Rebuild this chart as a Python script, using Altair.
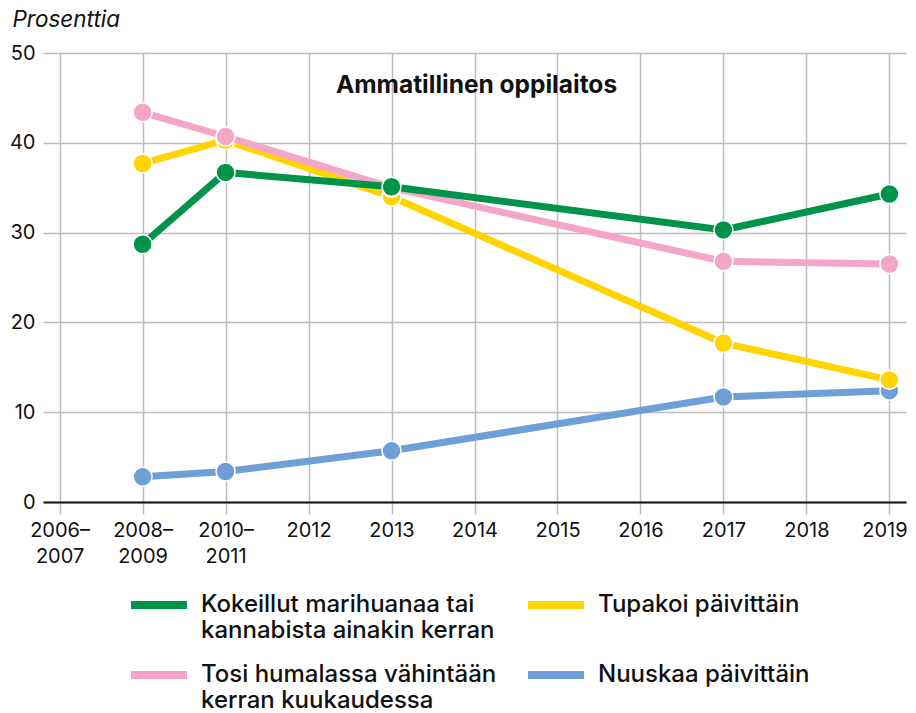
import altair as alt
import pandas as pd

# ---- data ----
categories = ["2006–2007", "2008–2009", "2010–2011", "2012", "2013", "2014",
              "2015", "2016", "2017", "2018", "2019"]

series_labels = [
    "Kokeillut marihuanaa tai|kannabista ainakin kerran",
    "Tupakoi päivittäin|",
    "Tosi humalassa vähintään|kerran kuukaudessa",
    "Nuuskaa päivittäin|",
]
series_colors = ["#00934A", "#FFD400", "#F4A6C9", "#6E9FD6"]

marihuana = [None, 28.7, 36.7, None, 35.1, None, None, None, 30.3, None, 34.3]
tupakka = [None, 37.7, 40.3, None, 34.0, None, None, None, 17.7, None, 13.6]
humala = [None, 43.4, 40.7, None, 35.0, None, None, None, 26.8, None, 26.5]
nuuska = [None, 2.8, 3.4, None, 5.7, None, None, None, 11.7, None, 12.4]

y_ticks = [0, 10, 20, 30, 40, 50]
y_title = "Prosenttia"
panel_title = "Ammatillinen oppilaitos"

series_values = {
    series_labels[0]: marihuana,
    series_labels[1]: tupakka,
    series_labels[2]: humala,
    series_labels[3]: nuuska,
}

rows = []
for name, vals in series_values.items():
    for cat, v in zip(categories, vals):
        if v is not None:
            rows.append({"vuosi": cat, "arvo": v, "sarja": name})
df = pd.DataFrame(rows)

W, H = 863, 449
FONT = "Inter"

x_enc = alt.X(
    "vuosi:N",
    sort=categories,
    scale=alt.Scale(type="point", domain=categories, padding=0.2),
    axis=alt.Axis(
        title=None,
        labelExpr="split(replace(datum.label, '–', '–|'), '|')",
        labelAngle=0,
        labelOverlap=False,
        labelLineHeight=26,
        labelOffset=alt.condition("datum.value == '2019'", alt.value(-5), alt.value(0)),
    ),
)
y_enc = alt.Y(
    "arvo:Q",
    scale=alt.Scale(domain=[0, 50], nice=False, zero=True),
    axis=alt.Axis(
        values=y_ticks,
        title=y_title,
        titleAngle=0,
        titleAlign="left",
        titleBaseline="alphabetic",
        titleX=-31,
        titleY=-27,
        titleFont=FONT,
        titleFontSize=22.5,
        titleFontStyle="italic",
        titleFontWeight="normal",
        titleColor="#111111",
    ),
)
color_enc = alt.Color(
    "sarja:N",
    scale=alt.Scale(domain=series_labels, range=series_colors),
    legend=alt.Legend(
        title=None,
        orient="none",
        direction="horizontal",
        legendX=84,
        legendY=520,
        padding=0,
        columns=2,
        columnPadding=15,
        rowPadding=-18,
        symbolType="stroke",
        symbolSize=3136,
        symbolStrokeWidth=8,
        labelFont=FONT,
        labelFontSize=24,
        labelFontWeight=500,
        labelColor="#111111",
        labelLimit=600,
        labelOffset=10,
        labelExpr="split(datum.label, '|')",
    ),
)

base = alt.Chart(df)
draw_order = [series_labels[3], series_labels[1], series_labels[2], series_labels[0]]
layers = []
for s in draw_order:
    sub = base.transform_filter(alt.datum.sarja == s)
    layers.append(
        sub.mark_line(strokeWidth=7).encode(x=x_enc, y=y_enc, color=color_enc)
    )
    layers.append(
        sub.mark_circle(size=360, opacity=1, stroke="white", strokeWidth=1.5).encode(
            x=x_enc, y=y_enc, color=color_enc
        )
    )

title_layer = alt.Chart(pd.DataFrame({"t": [panel_title]})).mark_text(
    font=FONT, fontSize=24.5, fontWeight="bold", color="#111111", align="center", baseline="middle"
).encode(text="t:N", x=alt.value(W / 2 + 2), y=alt.value(33))

chart = (
    alt.layer(*layers, title_layer)
    .properties(
        width=W,
        height=H,
        autosize=alt.AutoSizeParams(type="none"),
        padding={"left": 35, "top": 45, "right": 2, "bottom": 210},
        background="white",
    )
    .configure_view(stroke=None)
    .configure_axis(
        labelFont=FONT,
        labelFontSize=20,
        labelColor="#111111",
        gridColor="#BDBDBD",
        gridWidth=1.5,
    )
    .configure_axisX(
        domainColor="#111111",
        domainWidth=2,
        tickColor="#BDBDBD",
        tickWidth=1.5,
        tickSize=12,
        labelPadding=6,
        grid=True,
    )
    .configure_axisY(
        domain=False,
        ticks=False,
        labelPadding=8,
        grid=True,
    )
)

chart.save("out.html", embed_options={"renderer": "svg", "actions": False})
